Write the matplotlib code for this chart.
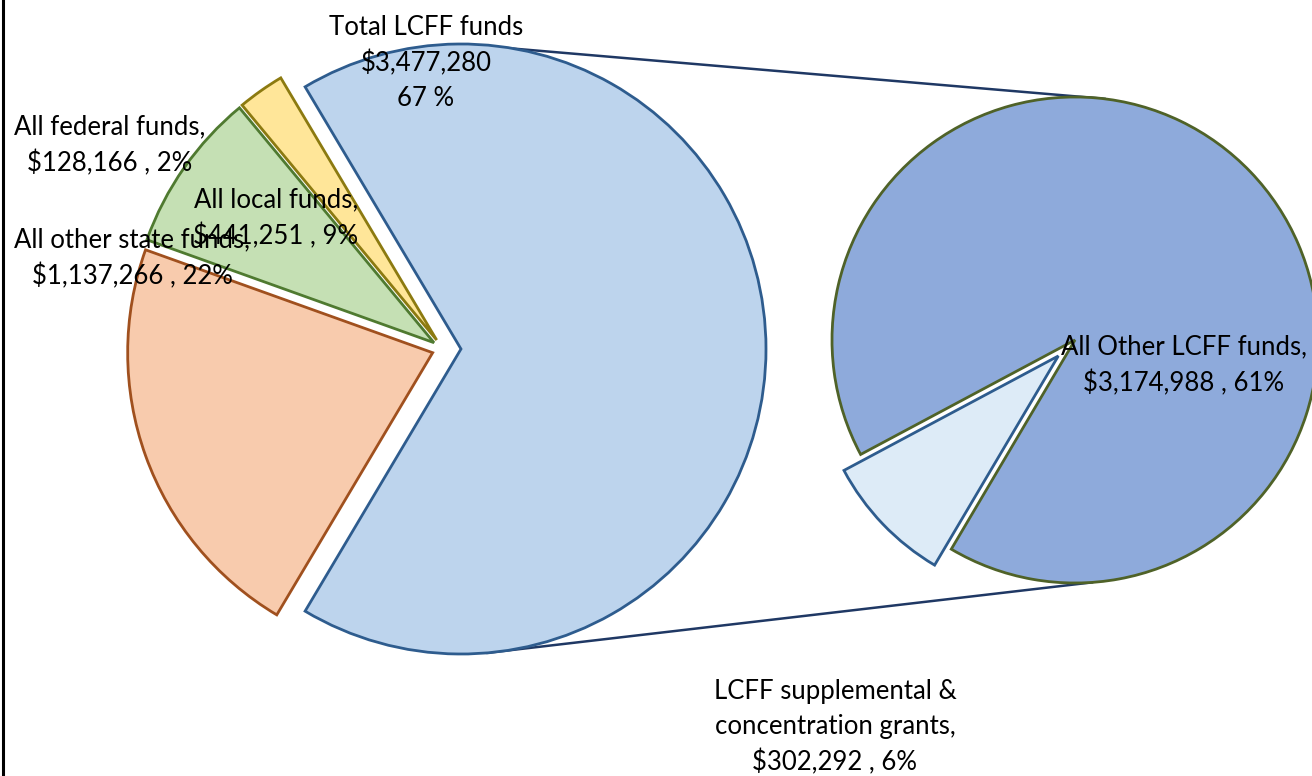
import numpy as np
import matplotlib
matplotlib.use("Agg")
import matplotlib.pyplot as plt

# main pie: funding sources
main_names = ["Total LCFF funds", "All federal funds", "All local funds", "All other state funds"]
main_values = [3477280, 128166, 441251, 1137266]
main_pcts = [67, 2, 9, 22]

# secondary pie: split of the LCFF funds
sub_names = ["LCFF supplemental & concentration grants", "All Other LCFF funds"]
sub_values = [302292, 3174988]
sub_pcts = [6, 61]

W, H = 1312, 776
fig = plt.figure(figsize=(W / 100, H / 100), dpi=100)
ax = fig.add_axes([0, 0, 1, 1])

# layout in pixels (y measured upward)
c1, r1 = (443, H - 349), 305
c2, r2 = (1075, H - 340), 243
expl1 = [0.059 * r1, 0.036 * r1, 0.036 * r1, 0.036 * r1]
expl2 = [0.095 * r2, 0.0]

main_colors = ["#BDD4ED", "#FFE699", "#C5E0B4", "#F8CBAD"]
main_edges = ["#2E5C8E", "#8C7A10", "#4F7A30", "#A0501E"]
frac0 = main_values[0] / sum(main_values) * 360
wedges, _ = ax.pie(main_values, explode=expl1,
                   startangle=-frac0 / 2, counterclock=True,
                   center=c1, radius=r1, colors=main_colors,
                   wedgeprops=dict(linewidth=2.0), frame=True)
for w, ec in zip(wedges, main_edges):
    w.set_edgecolor(ec)

sub_colors = ["#DDEBF7", "#8EAADB"]
sub_edges = ["#2E5C8E", "#4F6228"]
wedges2, _ = ax.pie(sub_values, explode=expl2, startangle=208.1,
                    counterclock=True, center=c2, radius=r2, colors=sub_colors,
                    wedgeprops=dict(linewidth=2.0), frame=True)
for w, ec in zip(wedges2, sub_edges):
    w.set_edgecolor(ec)

# connector lines between the two pies
bc = (c1[0] + expl1[0], c1[1])
for a1, a2 in [(80, 83), (-85, -86)]:
    p1 = (bc[0] + r1 * np.cos(np.radians(a1)), bc[1] + r1 * np.sin(np.radians(a1)))
    p2 = (c2[0] + r2 * np.cos(np.radians(a2)), c2[1] + r2 * np.sin(np.radians(a2)))
    ax.plot([p1[0], p2[0]], [p1[1], p2[1]], color="#1F3864", lw=1.8, zorder=0.5)

ax.set_xlim(0, W)
ax.set_ylim(0, H)
ax.set_aspect("equal")
ax.axis("off")

font = dict(family="Lato", fontsize=18.5, color="black", ha="center", va="center",
            linespacing=1.5, zorder=5)

def money(v):
    return "${:,}".format(v)

ax.text(426, H - 63, f"{main_names[0]}\n{money(main_values[0])}\n{main_pcts[0]} %", **font)
ax.text(110, H - 145, f"{main_names[1]},\n{money(main_values[1])} , {main_pcts[1]}%", **font)
ax.text(276, H - 218, f"{main_names[2]},\n{money(main_values[2])} , {main_pcts[2]}%", **font)
ax.text(132, H - 258, f"{main_names[3]},\n{money(main_values[3])} , {main_pcts[3]}%", **font)
ax.text(1184, H - 365, f"{sub_names[1]},\n{money(sub_values[1])} , {sub_pcts[1]}%", **font)
ax.text(835, H - 727, "LCFF supplemental &\nconcentration grants,\n"
        f"{money(sub_values[0])} , {sub_pcts[0]}%", **font)

# left frame edge
ax.plot([3, 3], [0, H], color="black", lw=2.2, clip_on=False)

fig.savefig("out.png", dpi=100)
